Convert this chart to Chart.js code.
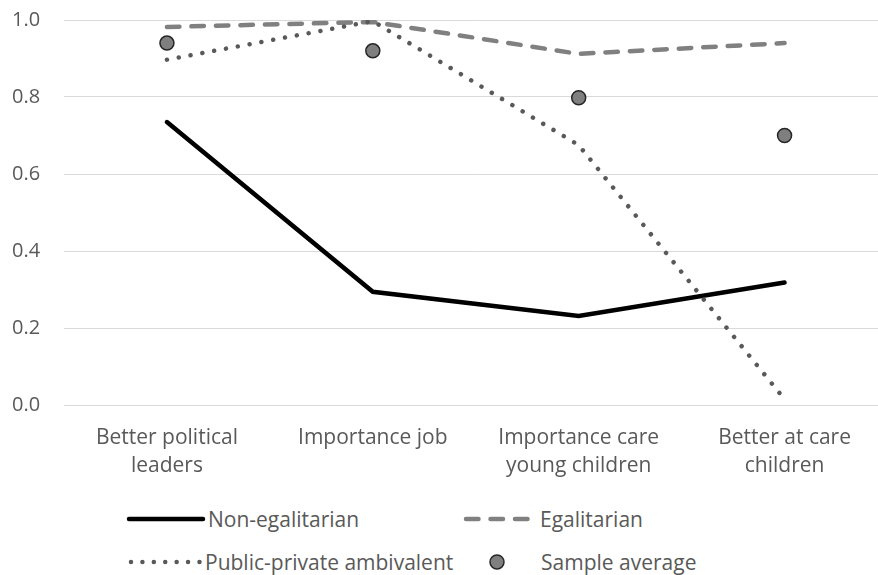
<!DOCTYPE html>
<html>
<head>
<meta charset="utf-8">
<script src="https://cdn.jsdelivr.net/npm/chart.js@4.4.1/dist/chart.umd.min.js"></script>
<style>
    html, body {
        margin: 0;
        padding: 0;
        width: 878px;
        height: 575px;
        overflow: hidden;
        background: #ffffff;
        font-family: "Open Sans", sans-serif;
    }
    #chart-box {
        position: absolute;
        left: 0;
        top: 0;
    }
    .legend-item {
        position: absolute;
        display: flex;
        align-items: center;
        font-size: 21px;
        color: #595959;
        white-space: nowrap;
    }
    .legend-item svg {
        margin-right: 2px;
    }
</style>
</head>
<body>
<div id="chart-box">
    <canvas id="line-chart" width="896" height="485"></canvas>
</div>
<div id="legend"></div>

<script>
// categories on the x axis (two lines each)
var categories = [
    ['Better political', 'leaders'],
    ['Importance job'],
    ['Importance care', 'young children'],
    ['Better at care', 'children']
];
// series values
var non_egalitarian = [0.735, 0.294, 0.231, 0.318];
var egalitarian = [0.982, 0.995, 0.912, 0.940];
var ambivalent = [0.897, 0.997, 0.675, 0.015];
var sample_average = [0.940, 0.920, 0.798, 0.700];
// y axis ticks
var y_ticks = [0, 0.2, 0.4, 0.6, 0.8, 1.0];
// series names
var series_names = ['Non-egalitarian', 'Egalitarian', 'Public-private ambivalent', 'Sample average'];

// print chart
printLineChart();
// print legend
printLegend();

// function that displays the four series in a line chart
function printLineChart() {
    var ctx = document.getElementById('line-chart').getContext('2d');
    var myLineChart = new Chart(ctx, {
        type: 'line',
        data: {
            labels: categories,
            datasets: [{
                label: series_names[0],
                data: non_egalitarian,
                borderColor: '#000000',
                borderWidth: 4.5,
                borderCapStyle: 'round',
                borderJoinStyle: 'miter',
                pointRadius: 0,
                tension: 0,
                order: 3
            }, {
                label: series_names[1],
                data: egalitarian,
                borderColor: '#808080',
                borderWidth: 4.5,
                borderDash: [12.5, 12],
                borderCapStyle: 'round',
                pointRadius: 0,
                tension: 0,
                order: 2
            }, {
                label: series_names[2],
                data: ambivalent,
                borderColor: '#595959',
                borderWidth: 4.5,
                borderDash: [0.01, 12],
                borderCapStyle: 'round',
                pointRadius: 0,
                tension: 0,
                order: 1
            }, {
                label: series_names[3],
                data: sample_average,
                showLine: false,
                pointRadius: 7,
                pointBackgroundColor: '#7f7f7f',
                pointBorderColor: '#262626',
                pointBorderWidth: 1.5,
                order: 0
            }]
        },
        options: {
            responsive: false,
            animation: false,
            devicePixelRatio: 1,
            layout: {
                padding: { top: 20, right: 4, left: 12, bottom: 0 }
            },
            plugins: {
                legend: { display: false },
                tooltip: { enabled: false }
            },
            scales: {
                x: {
                    offset: true,
                    grid: { display: false, drawTicks: false },
                    border: { display: false },
                    ticks: {
                        color: '#595959',
                        padding: 19,
                        maxRotation: 0,
                        autoSkip: false,
                        font: { family: 'Open Sans', size: 21, lineHeight: '28px' }
                    },
                    afterFit: function(axis) {
                        axis.height = 80;
                    }
                },
                y: {
                    min: 0,
                    max: 1,
                    grid: { color: '#d9d9d9', lineWidth: 1, drawTicks: false },
                    border: { display: false },
                    afterBuildTicks: function(axis) {
                        // use the tick values from the array
                        axis.ticks = y_ticks.map(function(v) { return { value: v }; });
                    },
                    ticks: {
                        color: '#595959',
                        padding: 0,
                        crossAlign: 'far',
                        font: { family: 'Open Sans', size: 20 },
                        callback: function(value) {
                            return Number(value).toFixed(1);
                        }
                    },
                    afterFit: function(axis) {
                        axis.width = 52;
                    }
                }
            }
        }
    });
}

// function that builds the html legend in two columns
function printLegend() {
    var symbols = [
        '<svg width="80" height="10"><line x1="3" y1="5" x2="77" y2="5" stroke="#000" stroke-width="4.5" stroke-linecap="round"/></svg>',
        '<svg width="75" height="10"><line x1="3" y1="5" x2="66" y2="5" stroke="#808080" stroke-width="4.5" stroke-linecap="round" stroke-dasharray="12.5 12"/></svg>',
        '<svg width="75" height="10"><line x1="3" y1="5" x2="72" y2="5" stroke="#595959" stroke-width="4.5" stroke-linecap="round" stroke-dasharray="0.01 11.4"/></svg>',
        '<svg width="52" height="18"><circle cx="10" cy="9" r="7" fill="#7f7f7f" stroke="#262626" stroke-width="1.5"/></svg>'
    ];
    var lefts = [126, 463, 128, 487];
    var tops = [505, 505, 548, 548];
    var legend = document.getElementById('legend');
    for (var i = 0; i < series_names.length; i++) {
        var item = document.createElement('div');
        item.className = 'legend-item';
        item.style.left = lefts[i] + 'px';
        item.style.top = tops[i] + 'px';
        item.innerHTML = symbols[i] + '<span>' + series_names[i] + '</span>';
        legend.appendChild(item);
    }
}
</script>
</body>
</html>
